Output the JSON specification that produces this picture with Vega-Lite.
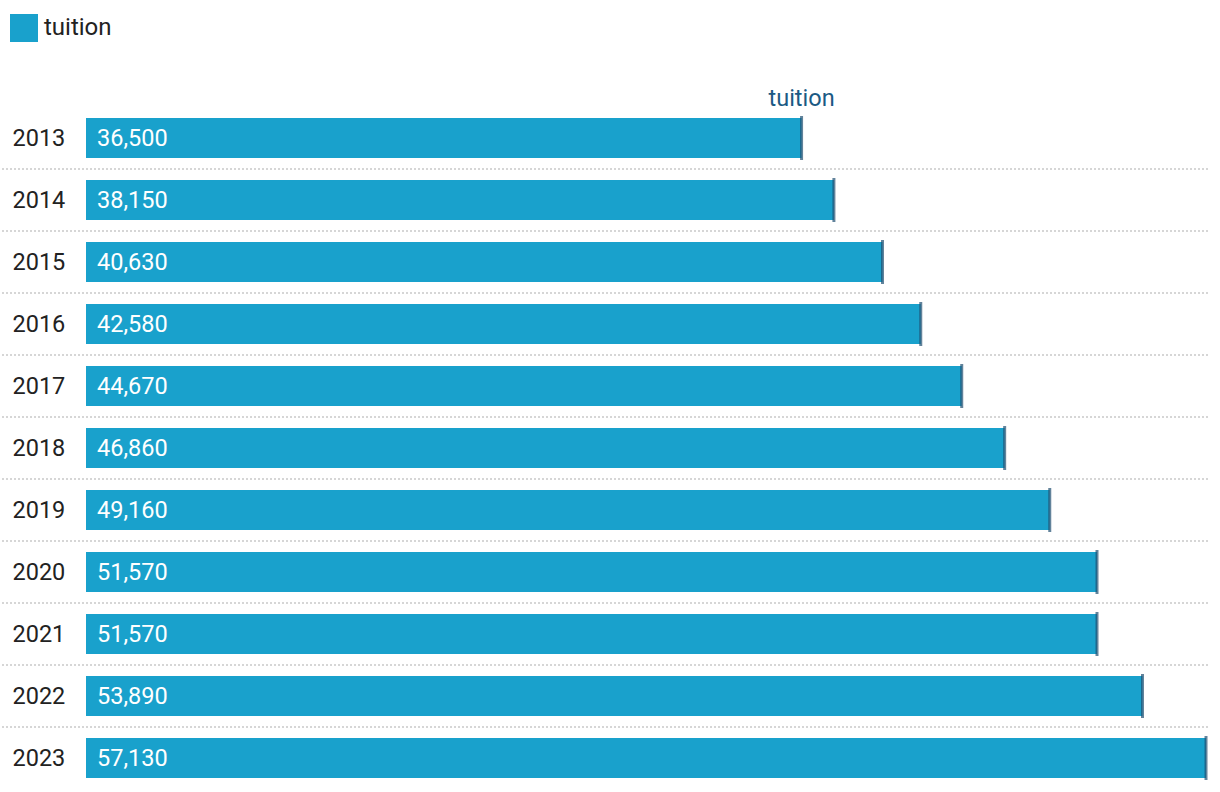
{
  "$schema": "https://vega.github.io/schema/vega-lite/v6.json",
  "width": 1208,
  "height": 682,
  "autosize": {"type": "none"},
  "padding": {"top": 107, "left": 0, "right": 12, "bottom": 3},
  "background": "white",
  "config": {"view": {"stroke": null}, "font": "Roboto"},
  "data": {"values": [
    {"year": "2013", "tuition": 36500},
    {"year": "2014", "tuition": 38150},
    {"year": "2015", "tuition": 40630},
    {"year": "2016", "tuition": 42580},
    {"year": "2017", "tuition": 44670},
    {"year": "2018", "tuition": 46860},
    {"year": "2019", "tuition": 49160},
    {"year": "2020", "tuition": 51570},
    {"year": "2021", "tuition": 51570},
    {"year": "2022", "tuition": 53890},
    {"year": "2023", "tuition": 57130}
  ]},
  "layer": [
    {
      "transform": [{"filter": "datum.year != '2013'"}],
      "mark": {"type": "rule", "color": "#d6d6d6", "strokeWidth": 2, "strokeDash": [2, 2]},
      "encoding": {
        "y": {"field": "year", "type": "nominal", "bandPosition": 0,
          "scale": {"domain": ["2013","2014","2015","2016","2017","2018","2019","2020","2021","2022","2023"], "paddingInner": 0, "paddingOuter": 0}}
      }
    },
    {
      "mark": {"type": "bar", "height": {"band": 0.645}},
      "encoding": {
        "y": {"field": "year", "type": "nominal",
          "axis": {"title": null, "domain": false, "ticks": false, "tickSize": 0, "labelAlign": "left", "labelPadding": -12, "labelOffset": 1, "labelFontSize": 23.5, "labelColor": "#222222", "labelFont": "Roboto", "grid": false}},
        "x": {"field": "tuition", "type": "quantitative",
          "scale": {"domain": [0, 57130], "range": [86, 1206], "nice": false, "zero": true},
          "axis": null},
        "color": {"datum": "tuition", "type": "nominal",
          "scale": {"range": ["#19a1cc"]},
          "legend": {"orient": "none", "legendX": 10, "legendY": -93, "title": null, "symbolType": "square", "symbolSize": 784, "symbolStrokeWidth": 0, "labelFontSize": 24, "labelColor": "#222222", "labelFont": "Roboto", "labelOffset": 6, "padding": 0}}
      }
    },
    {
      "mark": {"type": "tick", "color": "#1f4f70", "opacity": 0.7, "size": 44, "thickness": 3},
      "encoding": {
        "y": {"field": "year", "type": "nominal"},
        "x": {"field": "tuition", "type": "quantitative"}
      }
    },
    {
      "mark": {"type": "text", "align": "left", "baseline": "middle", "dx": 11, "dy": 1, "fontSize": 23.5, "color": "white", "font": "Roboto"},
      "encoding": {
        "y": {"field": "year", "type": "nominal"},
        "x": {"datum": 0, "type": "quantitative"},
        "text": {"field": "tuition", "type": "quantitative", "format": ","}
      }
    },
    {
      "transform": [{"filter": "datum.year == '2013'"}],
      "mark": {"type": "text", "align": "center", "baseline": "alphabetic", "dy": -32, "fontSize": 23.5, "color": "#1b5a84", "font": "Roboto"},
      "encoding": {
        "y": {"field": "year", "type": "nominal"},
        "x": {"field": "tuition", "type": "quantitative"},
        "text": {"value": "tuition"}
      }
    }
  ]
}
